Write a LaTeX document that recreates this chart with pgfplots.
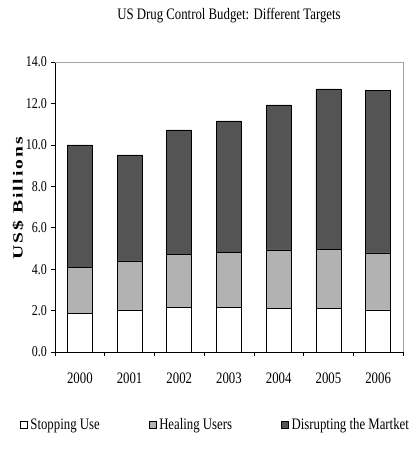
\documentclass[border=0pt]{standalone}
\usepackage{fontspec}
\setmainfont{Liberation Serif}[FakeStretch=0.8]
\newfontfamily\widebold{Liberation Serif}[FakeStretch=1.4,LetterSpace=14]
\usepackage{pgfplots}
\pgfplotsset{compat=1.18}

\definecolor{stopfill}{gray}{1.0}
\definecolor{healfill}{gray}{0.70}
\definecolor{disruptfill}{gray}{0.33}

% Budget components, US$ billions
\pgfplotstableread{
x  stop  heal  disrupt
0  1.87  2.22  5.91
1  2.00  2.40  5.12
2  2.16  2.56  6.00
3  2.16  2.66  6.34
4  2.10  2.83  7.00
5  2.10  2.86  7.74
6  2.03  2.75  7.84
}\budget

\begin{document}
\begin{tikzpicture}
\begin{axis}[
  scale only axis,
  width=348pt, height=290pt,
  ybar stacked, bar width=25pt,
  xmin=-0.5, xmax=6.5, ymin=0, ymax=14,
  enlarge x limits=false,
  axis x line*=bottom, axis y line*=left,
  axis line style={black, line width=0.6pt},
  xtick={-0.5,0.5,...,6.5},
  xticklabels={2000,2001,2002,2003,2004,2005,2006},
  x tick label as interval,
  ytick={0,2,...,14},
  tick align=outside,
  major tick length=3.5pt,
  tick style={black, line width=0.5pt},
  /pgf/number format/assume math mode=true,
  yticklabel style={/pgf/number format/.cd, fixed, fixed zerofill, precision=1,
    /tikz/.cd, font=\fontsize{15}{17}\selectfont, xshift=-1pt},
  xticklabel style={font=\fontsize{16}{18}\selectfont, yshift=-14pt},
  ylabel={\widebold\bfseries US\$ Billions},
  ylabel style={font=\fontsize{14}{16}\selectfont, at={(axis description cs:-0.106,0.53)}, anchor=center},
  title={US Drug Control Budget: Different Targets},
  title style={font=\fontsize{16}{18}\selectfont, yshift=30pt},
  legend columns=3,
  legend style={draw=none, fill=none, font=\fontsize{16}{18}\selectfont,
    at={(axis description cs:-0.11,-0.25)}, anchor=west,
    /tikz/every even column/.append style={column sep=47pt},
    /tikz/every odd column/.append style={column sep=1pt},
    legend cell align=left},
  legend image code/.code={\draw[#1, draw=black, line width=0.5pt] (0pt,-3.5pt) rectangle (7pt,3.5pt);},
  every axis plot/.append style={draw=black, line width=0.6pt},
]
\addplot[fill=stopfill] table[x=x, y=stop] {\budget};
\addplot[fill=healfill] table[x=x, y=heal] {\budget};
\addplot[fill=disruptfill] table[x=x, y=disrupt] {\budget};
\legend{Stopping Use, Healing Users, Disrupting the Martket}
\coordinate (bl) at (rel axis cs:0,0);
\coordinate (br) at (rel axis cs:1,0);
\coordinate (tl) at (rel axis cs:0,1);
\coordinate (tr) at (rel axis cs:1,1);
\end{axis}
% faint top and right border of the plot area
\draw[gray!70, line width=0.5pt] (tl) -- (tr) -- (br);
\pgfresetboundingbox
\path[use as bounding box] ([shift={(-55pt,-104pt)}]bl) rectangle ([shift={(16pt,62pt)}]tr);
\end{tikzpicture}
\end{document}
